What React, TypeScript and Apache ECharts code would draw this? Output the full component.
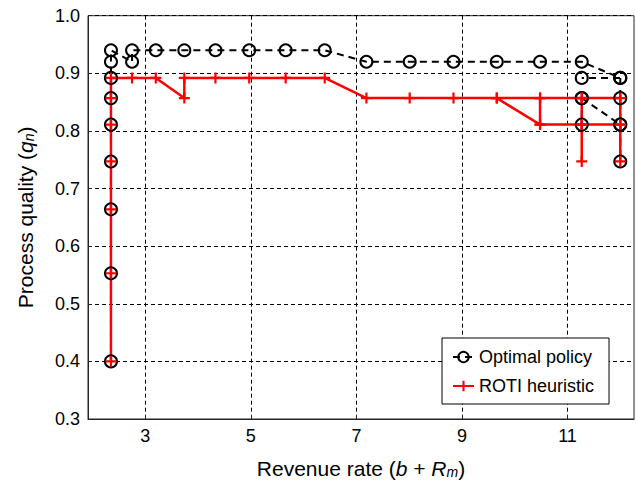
import React, { useEffect, useRef } from "react";
import * as echarts from "echarts";

const FONT = '"Liberation Sans", Arial, Helvetica, sans-serif';

// x tick labels
const xTicks = [3, 5, 7, 9, 11];

// Optimal policy (black dashed, circles)
const optimalMain: [number, number][] = [
  [2.35, 0.4], [2.35, 0.553], [2.35, 0.664], [2.35, 0.747], [2.35, 0.811],
  [2.35, 0.857], [2.35, 0.892], [2.35, 0.92], [2.35, 0.94],
  [2.75, 0.92], [2.75, 0.94], [3.2, 0.94], [3.74, 0.94], [4.33, 0.94],
  [4.97, 0.94], [5.66, 0.94], [6.4, 0.94],
  [7.19, 0.92], [8.01, 0.92], [8.84, 0.92], [9.66, 0.92], [10.48, 0.92],
  [11.27, 0.92], [12.0, 0.892], [11.27, 0.892],
];
const optimalBranchA: [number, number][] = [[12.0, 0.892], [12.0, 0.857], [12.0, 0.811], [12.0, 0.747]];
const optimalBranchB: [number, number][] = [[11.27, 0.857], [12.0, 0.811]];
const optimalBranchC: [number, number][] = [[11.27, 0.857], [11.27, 0.811]];

// ROTI heuristic (red solid, plus markers)
const rotiMain: [number, number][] = [
  [2.35, 0.4], [2.35, 0.553], [2.35, 0.664], [2.35, 0.747], [2.35, 0.811],
  [2.35, 0.857], [2.35, 0.892], [2.75, 0.892], [3.2, 0.892], [3.74, 0.857],
  [3.74, 0.892], [4.33, 0.892], [4.97, 0.892], [5.66, 0.892], [6.4, 0.892],
  [7.19, 0.857], [8.01, 0.857], [8.84, 0.857], [9.66, 0.857], [10.48, 0.811],
  [10.48, 0.857], [11.27, 0.857], [12.0, 0.857], [12.0, 0.811], [12.0, 0.747],
];
const rotiBranchA: [number, number][] = [[9.66, 0.857], [10.48, 0.857]];
const rotiBranchB: [number, number][] = [[10.48, 0.811], [11.27, 0.811], [12.0, 0.811]];
const rotiBranchC: [number, number][] = [[11.27, 0.857], [11.27, 0.811], [11.27, 0.747]];

const PLUS = "path://M-5,-1H-1V-5H1V-1H5V1H1V5H-1V1H-5Z";

function optSeries(data: [number, number][]) {
  return {
    type: "line",
    name: "Optimal policy",
    data,
    symbol: "circle",
    symbolSize: 12,
    showAllSymbol: true,
    itemStyle: { color: "rgba(0,0,0,0)", borderColor: "#000", borderWidth: 2 },
    lineStyle: { color: "#000", width: 2, type: [7, 5] },
    emphasis: { disabled: true },
    silent: true,
  };
}

function rotiSeries(data: [number, number][]) {
  return {
    type: "line",
    name: "ROTI heuristic",
    data,
    symbol: PLUS,
    symbolSize: 11,
    symbolKeepAspect: true,
    showAllSymbol: true,
    itemStyle: { color: "#ff0000" },
    lineStyle: { color: "#ff0000", width: 2.5, type: "solid" },
    emphasis: { disabled: true },
    silent: true,
  };
}

export default function App() {
  const ref = useRef<HTMLDivElement>(null);

  useEffect(() => {
    if (!ref.current) return;
    const chart = echarts.init(ref.current, null, { renderer: "svg" });
    const rich = {
      i: { fontStyle: "italic", fontSize: 21, fontFamily: FONT, color: "#000" },
      sub: {
        fontStyle: "italic",
        fontSize: 14,
        fontFamily: FONT,
        color: "#000",
        verticalAlign: "bottom",
        lineHeight: 14,
        padding: [14, 0, 0, 0],
      },
    };
    chart.setOption({
      animation: false,
      backgroundColor: "#fff",
      grid: {
        left: 87.7,
        right: 2,
        top: 15.7,
        bottom: 58,
        show: true,
        borderColor: "#262626",
        borderWidth: 1,
        backgroundColor: "#fff",
      },
      legend: {
        orient: "vertical",
        left: 442,
        top: 338,
        padding: [10, 15, 9, 10],
        itemGap: 11,
        itemWidth: 21,
        itemHeight: 13,
        borderColor: "#000",
        borderWidth: 1,
        backgroundColor: "#fff",
        textStyle: { fontSize: 18, color: "#000", fontFamily: FONT },
        data: ["Optimal policy", "ROTI heuristic"],
        selectedMode: false,
      },
      xAxis: {
        type: "value",
        min: 1.915,
        max: 12.26,
        name: "Revenue rate ({i|b} + {i|R}{sub|m})",
        nameLocation: "middle",
        nameGap: 39,
        nameTextStyle: { fontSize: 21, color: "#000", fontFamily: FONT, rich },
        axisLine: { show: true, onZero: false, lineStyle: { color: "#262626", width: 1 } },
        axisTick: { show: true, inside: true, length: 4, customValues: xTicks, lineStyle: { color: "#262626" } },
        axisLabel: { customValues: xTicks, fontSize: 18, color: "#000", fontFamily: FONT, margin: 8 },
        splitLine: { show: true, lineStyle: { color: "#000", width: 1, type: [4, 3] } },
      },
      yAxis: {
        type: "value",
        min: 0.3,
        max: 1.0,
        interval: 0.1,
        name: "Process quality ({i|q}{sub|n})",
        nameLocation: "middle",
        nameGap: 52,
        nameTextStyle: { fontSize: 21, color: "#000", fontFamily: FONT, rich },
        axisLine: { show: true, onZero: false, lineStyle: { color: "#262626", width: 1 } },
        axisTick: { show: true, inside: true, length: 4, lineStyle: { color: "#262626" } },
        axisLabel: {
          fontSize: 18,
          color: "#000",
          fontFamily: FONT,
          margin: 8,
          formatter: (v: number) => v.toFixed(1),
        },
        splitLine: { show: true, lineStyle: { color: "#000", width: 1, type: [4, 3] } },
      },
      series: [
        optSeries(optimalMain),
        optSeries(optimalBranchA),
        optSeries(optimalBranchB),
        optSeries(optimalBranchC),
        rotiSeries(rotiMain),
        rotiSeries(rotiBranchA),
        rotiSeries(rotiBranchB),
        rotiSeries(rotiBranchC),
      ],
    });
    return () => chart.dispose();
  }, []);

  return (
    <div
      ref={ref}
      style={{ position: "fixed", left: 0, top: 0, width: 636, height: 484, background: "#fff" }}
    />
  );
}
